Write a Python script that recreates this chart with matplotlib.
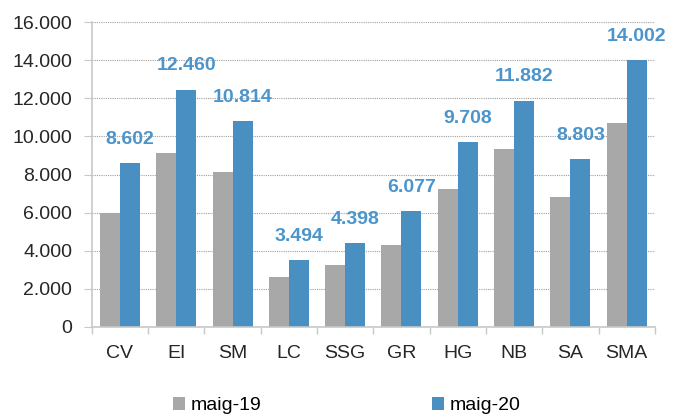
import matplotlib
matplotlib.use('Agg')
import matplotlib.pyplot as plt
import numpy as np
from matplotlib.ticker import FuncFormatter

plt.rcParams['font.family'] = ['Liberation Sans', 'DejaVu Sans']

categories = ['CV', 'EI', 'SM', 'LC', 'SSG', 'GR', 'HG', 'NB', 'SA', 'SMA']
maig19 = [5970, 9110, 8150, 2640, 3250, 4290, 7220, 9320, 6800, 10690]
maig20 = [8602, 12460, 10814, 3494, 4398, 6077, 9708, 11882, 8803, 14002]
series_names = ['maig-19', 'maig-20']
yticks = [0, 2000, 4000, 6000, 8000, 10000, 12000, 14000, 16000]

gray = '#a8a8a8'
blue = '#4a8fc2'
label_blue = '#4b95cc'
axis_gray = '#c8c8c8'

fig = plt.figure(figsize=(6.8, 4.16), dpi=100)
ax = fig.add_axes([0.135, 0.214, 0.828, 0.733])

x = np.arange(len(categories))
w = 0.355
b1 = ax.bar(x - w / 2, maig19, w, color=gray, label=series_names[0])
b2 = ax.bar(x + w / 2, maig20, w, color=blue, label=series_names[1])

def fmt(v):
    return f'{int(v):,}'.replace(',', '.')

for xi, v in zip(x, maig20):
    ax.annotate(fmt(v), (xi + w / 2, v), xytext=(0, 11), textcoords='offset points',
                ha='center', va='bottom', color=label_blue, fontsize=14, fontweight='bold')

ax.set_xlim(-0.5, len(categories) - 0.5)
ax.set_ylim(0, 16000)
ax.set_yticks(yticks)
ax.yaxis.set_major_formatter(FuncFormatter(lambda v, p: fmt(v)))
ax.grid(axis='y', color='#a0a0a0', linestyle=(0, (1, 1)), linewidth=0.8)
ax.set_axisbelow(True)

ax.set_xticks(x)
ax.set_xticklabels(categories)
ax.set_xticks(np.arange(len(categories) + 1) - 0.5, minor=True)
ax.tick_params(axis='x', which='major', length=0, pad=13, labelsize=14, colors='#262626')
ax.tick_params(axis='x', which='minor', length=5, color=axis_gray, width=1)
ax.tick_params(axis='y', length=6, color=axis_gray, pad=8, labelsize=14, labelcolor='#262626')

for s in ['top', 'right']:
    ax.spines[s].set_visible(False)
for s in ['left', 'bottom']:
    ax.spines[s].set_color(axis_gray)
    ax.spines[s].set_linewidth(1.2)

fig.legend(handles=[b1, b2], labels=series_names, loc='lower center', bbox_to_anchor=(0.51, -0.038),
           ncol=2, frameon=False, fontsize=14, handlelength=0.6, handleheight=0.6,
           handletextpad=0.3, columnspacing=8.8)

fig.savefig('out.png', dpi=100)
